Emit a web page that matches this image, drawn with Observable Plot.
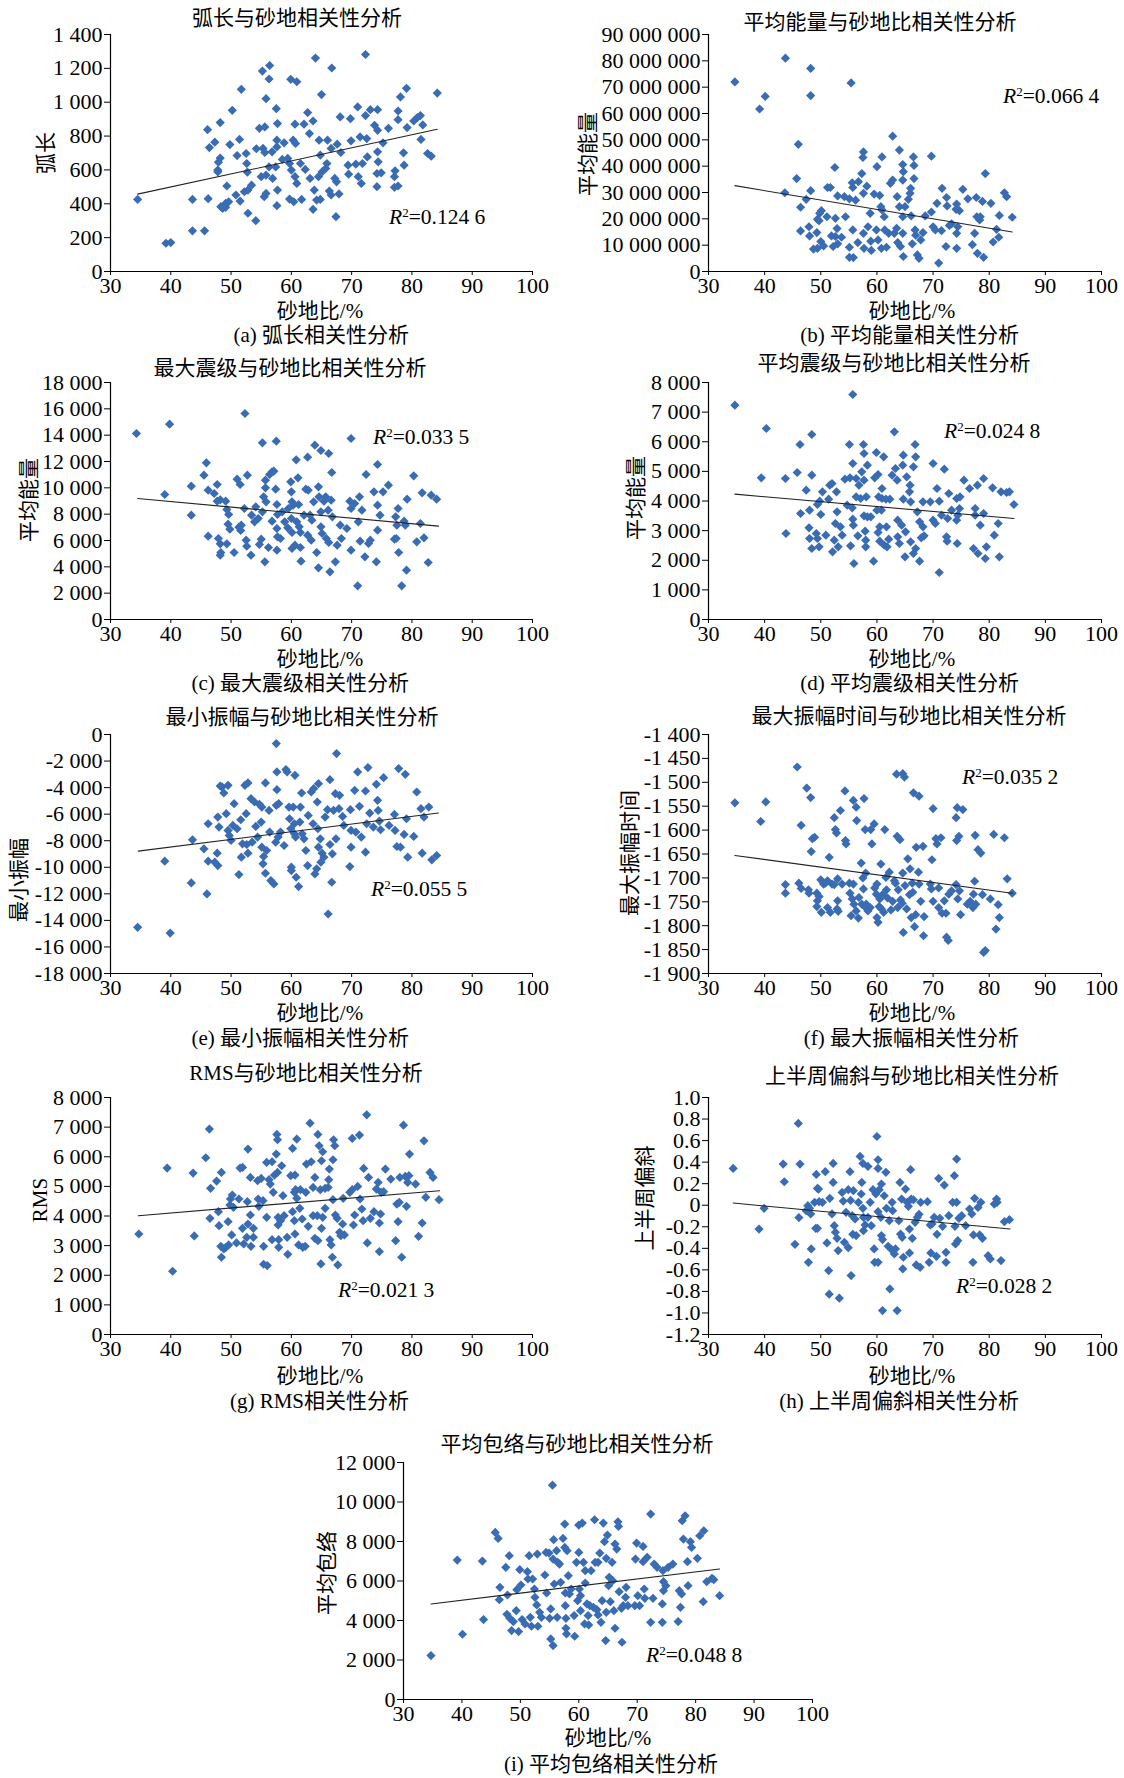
<!DOCTYPE html>
<html><head><meta charset="utf-8">
<script src="https://cdn.jsdelivr.net/npm/d3@7"></script>
<script src="https://cdn.jsdelivr.net/npm/@observablehq/plot@0.6"></script>
<style>
body{margin:0;background:#fff;}
#root{position:relative;width:1124px;height:1778px;font-family:"Liberation Serif","Times New Roman","Noto Sans CJK SC",serif;color:#000;overflow:hidden;}
#root svg{position:absolute;}
.t{position:absolute;white-space:nowrap;font-size:21px;line-height:1;transform:translate(-50%,-50%);}
.cap{position:absolute;white-space:nowrap;font-size:21px;line-height:1;transform:translate(-100%,-50%);}
.yl{position:absolute;white-space:nowrap;font-size:21px;line-height:1;transform:translate(-50%,-50%) rotate(-90deg);}
.r2{position:absolute;white-space:nowrap;font-size:21.5px;line-height:1;transform:translate(0,-50%);}
.r2 sup{font-size:13px;vertical-align:top;position:relative;top:-1px;}
</style></head><body><div id="root"></div>
<script>
// ---------------- data ----------------
const xTicks = [30,40,50,60,70,80,90,100];

const arcLen = [[34.5,426],[39.2,167],[40.0,171],[43.6,240],[43.6,426],[45.6,240],[46.1,838],[46.4,732],[46.2,430],[47.3,764],[48.2,880],[47.8,589],[47.9,646],[48.2,670],[47.8,599],[48.3,383],[48.6,373],[49.1,379],[49.3,505],[49.1,402],[49.6,412],[49.8,750],[50.2,952],[50.8,452],[51.0,685],[51.4,780],[51.7,1076],[51.5,416],[52.5,697],[52.6,638],[52.7,587],[52.8,344],[52.2,471],[52.8,481],[53.4,510],[54.1,300],[54.2,725],[54.7,846],[55.2,1184],[55.6,854],[55.8,1021],[55.3,727],[55.6,703],[55.8,569],[55.0,560],[55.5,442],[55.8,461],[56.4,1217],[56.3,1137],[56.3,618],[56.8,707],[56.9,550],[57.5,962],[57.7,874],[57.6,776],[57.6,736],[57.4,618],[57.7,481],[57.6,389],[58.5,662],[58.8,760],[59.4,668],[59.7,638],[59.9,1135],[60.9,1121],[60.3,776],[60.7,756],[60.6,870],[60.0,599],[60.6,560],[59.7,428],[60.4,412],[60.9,520],[61.5,638],[62.1,870],[62.7,939],[63.0,815],[62.3,603],[61.7,426],[63.1,550],[63.6,889],[64.0,1261],[63.6,367],[64.2,422],[64.8,426],[63.8,481],[64.8,687],[64.6,776],[65.0,1045],[64.5,560],[65.1,589],[65.7,609],[65.9,638],[66.0,776],[66.6,727],[66.7,1202],[66.3,475],[66.6,452],[67.4,324],[67.2,550],[67.5,530],[67.6,752],[67.9,458],[68.1,913],[68.2,703],[69.4,628],[69.8,903],[69.9,772],[69.5,575],[70.7,634],[71.0,972],[71.4,795],[71.1,560],[71.6,520],[72.3,1282],[72.3,921],[72.5,785],[72.6,677],[71.8,638],[73.1,956],[73.8,864],[74.3,956],[74.3,834],[74.3,707],[74.4,648],[74.2,579],[74.9,583],[74.2,501],[75.2,760],[76.1,846],[77.2,595],[77.1,560],[77.1,497],[77.7,505],[77.7,948],[77.7,897],[78.1,1031],[78.6,701],[78.7,628],[79.1,1082],[79.2,850],[80.3,889],[80.9,909],[81.4,921],[81.8,866],[81.5,780],[82.6,697],[83.2,681],[84.2,1054]];
const arcLenTrend = [[34.5,457],[84.2,840]];
const arcLenTicks = [0,200,400,600,800,1000,1200,1400];

const meanEnergy = [[34.7,72.0e6],[39.1,61.7e6],[40.1,66.5e6],[43.7,81.0e6],[43.6,29.9e6],[45.7,35.3e6],[46.0,48.3e6],[46.4,24.4e6],[46.4,15.4e6],[47.4,27.4e6],[47.9,17.0e6],[48.0,13.5e6],[48.2,77.1e6],[48.2,66.8e6],[48.2,30.7e6],[48.7,8.5e6],[49.4,8.8e6],[49.3,14.8e6],[49.4,19.8e6],[49.8,22.1e6],[50.1,23.1e6],[49.7,19.3e6],[50.0,11.4e6],[50.5,9.7e6],[51.1,20.8e6],[51.2,31.9e6],[51.7,31.9e6],[51.9,13.5e6],[52.2,9.5e6],[52.5,39.5e6],[52.6,20.2e6],[52.9,16.3e6],[52.6,13.3e6],[53.0,10.5e6],[53.0,28.7e6],[53.7,13.0e6],[54.2,28.4e6],[54.4,20.8e6],[55.1,9.2e6],[55.1,5.4e6],[55.8,5.3e6],[55.4,71.6e6],[55.1,27.6e6],[55.6,33.7e6],[55.7,31.9e6],[55.7,15.8e6],[56.2,27.1e6],[56.6,11.0e6],[56.7,34.1e6],[57.3,37.2e6],[57.6,45.4e6],[57.5,43.3e6],[57.6,29.7e6],[57.6,14.5e6],[57.7,8.8e6],[58.2,32.4e6],[58.4,17.0e6],[58.8,22.1e6],[58.9,11.5e6],[59.0,8.0e6],[59.5,29.4e6],[60.0,39.8e6],[59.9,15.8e6],[60.2,12.0e6],[60.5,28.9e6],[60.7,24.6e6],[60.9,43.5e6],[60.9,23.4e6],[61.3,20.8e6],[60.8,8.8e6],[61.7,9.2e6],[61.4,15.8e6],[62.1,14.5e6],[62.4,33.5e6],[62.8,51.4e6],[62.8,34.7e6],[63.1,14.5e6],[63.5,16.4e6],[63.6,28.4e6],[64.0,46.1e6],[64.0,24.6e6],[63.7,11.0e6],[64.2,9.5e6],[64.6,40.6e6],[64.7,37.9e6],[64.6,34.7e6],[65.0,24.6e6],[64.6,20.8e6],[64.6,14.5e6],[64.7,5.7e6],[65.6,27.4e6],[65.9,29.7e6],[66.0,31.6e6],[66.5,43.5e6],[66.6,40.3e6],[66.6,35.3e6],[66.1,21.1e6],[66.3,10.5e6],[66.8,15.8e6],[66.9,13.8e6],[67.2,6.3e6],[67.5,5.0e6],[67.8,12.0e6],[68.2,14.8e6],[68.6,21.1e6],[69.7,43.8e6],[69.7,22.6e6],[70.0,17.0e6],[70.4,15.8e6],[70.7,25.9e6],[71.0,3.2e6],[71.5,15.5e6],[71.6,31.6e6],[72.3,9.5e6],[72.4,28.1e6],[72.5,24.9e6],[72.9,17.5e6],[73.3,18.1e6],[74.1,23.6e6],[74.2,25.6e6],[74.2,14.5e6],[74.2,8.8e6],[74.7,23.1e6],[74.4,17.0e6],[75.3,31.2e6],[76.2,27.6e6],[77.0,10.2e6],[77.4,14.5e6],[77.7,28.1e6],[77.8,20.8e6],[77.9,6.9e6],[78.3,19.6e6],[78.4,20.8e6],[78.8,26.6e6],[79.0,5.4e6],[79.3,37.2e6],[80.3,25.9e6],[80.7,11.2e6],[81.3,16.0e6],[81.7,13.0e6],[81.8,21.3e6],[82.7,29.9e6],[83.1,28.4e6],[84.1,20.6e6]];
const meanEnergyTrend = [[34.7,32.6e6],[84.1,15.0e6]];
const meanEnergyTicks = [0,10e6,20e6,30e6,40e6,50e6,60e6,70e6,80e6,90e6];

const maxMag = [[34.3,14126],[39.0,9494],[39.8,14835],[43.4,10127],[43.4,7924],[45.5,10962],[45.9,11899],[46.2,6329],[46.2,9823],[47.2,9570],[47.7,10253],[47.7,8987],[47.9,6152],[48.2,5747],[48.2,4886],[48.3,5089],[48.2,9089],[49.1,8987],[49.3,8354],[49.6,7975],[49.5,7241],[49.8,6861],[49.3,5747],[50.5,5089],[51.0,10658],[51.5,10253],[51.3,7013],[51.6,6759],[51.7,7165],[52.3,15645],[52.7,10962],[52.2,8430],[52.5,6025],[52.6,5570],[53.3,4886],[53.4,7924],[53.9,7418],[54.1,8557],[54.5,7671],[54.7,5696],[55.0,6101],[55.2,13417],[55.2,8177],[55.4,9317],[55.7,10582],[55.7,10000],[55.8,8936],[55.6,4380],[56.2,5468],[56.4,11013],[56.8,11215],[56.8,7468],[57.1,11266],[57.5,13544],[57.4,9899],[57.6,8734],[57.7,7975],[57.6,6911],[57.7,6278],[57.6,5266],[58.2,6152],[58.5,8177],[58.9,7418],[59.4,6962],[59.5,8430],[59.9,10456],[60.0,9696],[60.1,8936],[60.3,8683],[60.0,7671],[60.1,6608],[60.1,5392],[60.6,5646],[60.8,12127],[61.1,10759],[61.2,8734],[60.9,7418],[61.3,7038],[61.5,6608],[61.5,5468],[61.6,4430],[62.1,7924],[62.4,9899],[62.7,12329],[62.8,9823],[62.7,6405],[63.1,7924],[63.3,6025],[63.4,7544],[63.9,13240],[63.7,8936],[64.2,5089],[64.5,3924],[64.5,10076],[64.6,9317],[64.9,12835],[64.9,8177],[64.9,7038],[65.1,6532],[65.4,8987],[65.7,9317],[65.8,6152],[66.1,8304],[66.2,5848],[66.2,12607],[66.6,9063],[66.7,11165],[66.4,3620],[66.8,7797],[67.3,4380],[67.6,5646],[68.1,7165],[68.3,6152],[69.2,6911],[69.7,8987],[69.9,13747],[69.9,8430],[69.9,5266],[70.5,8810],[71.0,2557],[71.1,7418],[71.3,9317],[71.7,8304],[71.4,5949],[72.2,4759],[72.4,11013],[72.8,5772],[73.1,6025],[73.7,9696],[74.1,4380],[74.3,11772],[74.3,8683],[74.3,6785],[74.7,7924],[75.2,9696],[76.1,10202],[77.1,6101],[77.4,6152],[77.3,7797],[77.5,7165],[77.7,8430],[77.8,5089],[78.3,2557],[78.7,7468],[78.9,7165],[79.1,3747],[79.2,9139],[80.3,10911],[80.8,5899],[81.4,7291],[81.7,9620],[82.0,6203],[82.7,4329],[83.2,9443],[84.1,9139]];
const maxMagTrend = [[34.5,9190],[84.4,7089]];
const maxMagTicks = [0,2000,4000,6000,8000,10000,12000,14000,16000,18000];

const meanMag = [[34.7,7235],[39.4,4782],[40.3,6447],[43.7,4759],[43.8,2903],[45.8,4962],[46.3,5907],[46.4,3578],[47.4,4366],[47.9,3094],[48.0,3690],[48.0,2734],[48.4,2397],[48.4,6245],[48.4,4872],[49.2,2903],[49.4,2734],[49.7,2453],[49.4,3882],[49.8,3994],[50.0,3544],[50.3,4310],[50.9,2847],[51.4,4062],[51.6,4535],[52.0,4591],[52.1,2284],[52.4,2678],[52.6,3240],[52.8,4310],[52.9,3634],[53.1,2453],[53.5,3128],[53.8,2847],[54.3,4737],[54.7,3859],[55.1,5907],[55.2,4782],[55.3,2487],[55.6,3769],[55.7,7595],[55.7,5266],[55.7,3387],[55.8,3184],[55.9,1890],[56.3,4759],[56.3,4141],[56.6,2824],[56.8,4535],[57.1,4084],[57.3,4984],[57.6,5907],[57.7,5604],[57.7,4703],[57.7,3499],[57.9,2982],[58.0,2678],[58.0,2453],[58.1,4141],[58.3,5210],[58.3,3466],[58.9,3466],[59.4,1969],[59.6,4782],[59.9,5637],[60.2,4895],[60.3,4141],[60.0,3690],[60.2,2937],[60.5,3128],[60.5,2644],[60.8,3690],[60.9,4422],[60.9,4084],[61.2,5491],[61.3,2509],[61.6,4062],[61.7,3128],[61.8,2453],[62.1,2712],[62.3,4062],[62.7,4872],[63.1,6335],[63.3,5097],[63.6,4703],[63.7,3353],[63.7,2790],[64.0,2565],[64.4,3184],[64.6,5210],[64.7,5547],[64.7,4062],[65.0,2115],[65.1,2959],[65.3,4816],[65.8,4310],[65.9,4535],[66.0,3972],[66.0,2622],[66.5,5153],[66.5,2228],[66.8,5907],[66.9,5491],[66.9,2397],[67.2,3634],[67.6,1969],[67.6,3297],[67.9,2757],[68.2,3972],[68.2,3128],[68.4,2824],[69.5,3972],[70.0,5266],[70.0,3353],[70.4,3240],[70.7,4422],[71.1,1587],[71.1,3994],[71.5,3522],[72.0,5075],[72.4,2790],[72.5,2644],[72.6,3409],[72.8,4253],[73.3,3690],[74.2,4084],[74.2,3353],[74.3,2565],[74.4,3522],[74.7,3747],[74.8,4141],[75.5,4703],[76.5,4422],[77.2,2397],[77.5,3747],[77.5,3522],[77.9,4535],[78.0,2228],[78.4,3184],[79.0,4759],[79.0,3578],[79.3,2059],[79.5,2453],[80.6,4445],[80.9,2847],[81.6,3240],[81.8,2115],[82.1,4310],[83.1,4287],[83.6,4310],[84.4,3882]];
const meanMagTrend = [[34.7,4231],[84.4,3409]];
const meanMagTicks = [0,1000,2000,3000,4000,5000,6000,7000,8000];

const minAmp = [[34.5,-14526],[39.0,-9541],[39.9,-14954],[43.6,-7930],[43.4,-11178],[45.5,-8610],[46.0,-12008],[46.2,-6722],[46.2,-9541],[47.3,-9617],[47.7,-8937],[47.8,-6218],[47.8,-9869],[48.0,-6974],[48.2,-3877],[48.5,-3952],[48.8,-4406],[49.2,-5966],[49.5,-3827],[49.5,-7225],[49.7,-7603],[50.0,-7980],[50.3,-6848],[50.5,-5211],[51.0,-7099],[51.3,-10548],[51.6,-6420],[51.7,-9239],[51.9,-8232],[52.3,-3827],[52.5,-5966],[52.6,-8283],[52.8,-3650],[52.8,-8937],[53.3,-4834],[53.5,-8106],[53.9,-5085],[54.1,-6923],[54.4,-7729],[54.7,-5261],[55.1,-5463],[55.0,-6596],[55.1,-8484],[55.3,-9743],[55.4,-9189],[55.7,-10448],[55.7,-3650],[55.9,-8736],[56.3,-5715],[56.4,-7351],[56.6,-11002],[57.1,-11253],[57.4,-8106],[57.5,-680],[57.6,-2820],[57.6,-4154],[57.5,-5337],[57.9,-5211],[57.8,-7729],[58.2,-7351],[58.8,-8358],[59.1,-2643],[59.3,-2820],[59.6,-5463],[59.7,-6344],[59.9,-7099],[60.0,-9995],[60.0,-10246],[60.3,-5463],[60.5,-6722],[60.6,-3071],[60.5,-7477],[60.7,-7729],[60.8,-10750],[61.2,-11455],[61.4,-6596],[61.5,-5463],[61.7,-4406],[61.8,-7477],[62.1,-7855],[62.4,-8736],[62.7,-9869],[62.8,-6092],[63.3,-4330],[63.7,-4078],[63.6,-6722],[63.9,-10498],[64.2,-10120],[64.3,-5085],[64.4,-7099],[64.5,-3701],[64.5,-8484],[64.8,-7855],[64.9,-9617],[65.1,-8937],[65.4,-9239],[65.6,-6218],[66.0,-5664],[66.1,-13519],[66.4,-3399],[66.4,-8283],[66.7,-11127],[66.8,-8987],[67.0,-5715],[67.3,-4456],[67.4,-7855],[67.5,-1435],[67.9,-5589],[68.0,-4582],[68.5,-6168],[68.7,-6848],[69.7,-9944],[69.8,-5664],[69.9,-8484],[69.9,-7225],[70.5,-4204],[70.7,-7351],[71.0,-2820],[71.3,-5413],[71.6,-7729],[72.3,-8862],[72.3,-4254],[72.7,-2492],[72.5,-6722],[73.0,-5916],[73.6,-6974],[74.1,-3751],[74.3,-4959],[74.4,-5715],[74.6,-6520],[74.8,-7175],[75.3,-3248],[76.2,-6848],[77.1,-6017],[77.2,-7225],[77.5,-8434],[77.8,-2568],[78.1,-8484],[78.7,-7527],[78.9,-2996],[79.1,-6344],[79.3,-9239],[80.3,-7678],[80.8,-4330],[81.5,-5589],[81.7,-8937],[82.0,-6218],[82.8,-5463],[83.3,-9440],[84.1,-9113]];
const minAmpTrend = [[34.6,-8786],[84.4,-5916]];
const minAmpTicks = [0,-2000,-4000,-6000,-8000,-10000,-12000,-14000,-16000,-18000];

const maxAmpTime = [[34.7,-1543],[39.3,-1582],[40.2,-1541],[43.7,-1714],[43.7,-1732],[45.8,-1468],[46.1,-1711],[46.5,-1722],[46.5,-1590],[47.5,-1512],[47.8,-1725],[47.9,-1732],[48.2,-1532],[48.3,-1645],[48.5,-1618],[48.9,-1615],[49.3,-1732],[49.4,-1748],[49.7,-1739],[49.3,-1760],[50.0,-1704],[50.1,-1772],[50.5,-1713],[50.8,-1711],[51.2,-1706],[51.5,-1657],[51.2,-1762],[51.7,-1772],[52.0,-1713],[52.4,-1714],[52.4,-1574],[52.6,-1599],[52.8,-1606],[53.0,-1702],[53.0,-1748],[52.9,-1765],[53.1,-1770],[53.5,-1559],[53.8,-1713],[54.3,-1518],[54.4,-1622],[54.5,-1629],[55.1,-1711],[55.2,-1732],[55.4,-1779],[55.6,-1744],[55.8,-1713],[55.8,-1538],[55.9,-1755],[56.3,-1552],[56.4,-1580],[56.3,-1769],[56.7,-1784],[56.8,-1741],[57.2,-1669],[57.3,-1755],[57.5,-1700],[57.6,-1723],[57.7,-1534],[57.9,-1599],[58.0,-1690],[58.0,-1762],[58.1,-1755],[58.4,-1769],[58.8,-1762],[58.9,-1599],[59.1,-1629],[59.5,-1587],[59.6,-1721],[59.9,-1734],[60.0,-1713],[60.0,-1783],[60.2,-1793],[60.4,-1760],[60.5,-1744],[60.7,-1671],[60.8,-1765],[61.0,-1735],[61.2,-1772],[61.4,-1599],[61.6,-1699],[61.7,-1725],[61.9,-1742],[62.2,-1688],[62.5,-1767],[62.8,-1749],[63.1,-1706],[63.3,-1711],[63.5,-1483],[63.6,-1613],[63.7,-1762],[63.8,-1725],[64.1,-1620],[64.2,-1746],[64.5,-1753],[64.6,-1690],[64.6,-1482],[64.9,-1489],[64.7,-1814],[65.0,-1716],[65.3,-1765],[65.5,-1660],[65.8,-1735],[65.9,-1681],[66.1,-1783],[66.3,-1711],[66.4,-1730],[66.5,-1522],[66.7,-1802],[66.9,-1777],[67.0,-1636],[67.4,-1688],[67.5,-1713],[67.5,-1529],[67.8,-1749],[68.2,-1634],[68.3,-1821],[68.4,-1781],[69.5,-1713],[69.7,-1723],[69.8,-1662],[70.0,-1555],[70.0,-1749],[70.5,-1618],[70.7,-1629],[71.0,-1721],[71.0,-1762],[71.4,-1616],[71.6,-1774],[72.0,-1748],[72.3,-1774],[72.4,-1824],[72.7,-1831],[72.8,-1734],[73.3,-1727],[74.1,-1714],[74.1,-1574],[74.2,-1622],[74.3,-1553],[74.4,-1744],[74.6,-1613],[74.7,-1727],[74.9,-1777],[75.3,-1557],[76.1,-1755],[76.6,-1749],[77.1,-1762],[77.2,-1734],[77.4,-1707],[77.5,-1611],[77.6,-1755],[78.0,-1641],[78.5,-1648],[78.8,-1735],[79.0,-1856],[79.3,-1852],[80.2,-1744],[80.8,-1609],[81.2,-1807],[81.6,-1756],[81.8,-1783],[82.7,-1616],[83.2,-1702],[84.1,-1732]];
const maxAmpTimeTrend = [[34.7,-1653],[84.1,-1732]];
const maxAmpTimeTicks = [-1400,-1450,-1500,-1550,-1600,-1650,-1700,-1750,-1800,-1850,-1900];

const rms = [[34.7,3393],[39.4,5618],[40.3,2135],[43.7,5449],[43.9,3326],[45.8,5966],[46.4,6933],[46.6,4933],[46.5,3921],[47.6,5180],[47.9,4146],[48.0,3674],[48.4,5472],[48.3,2978],[48.4,2607],[48.8,2888],[49.1,2933],[49.5,3809],[49.6,3022],[49.8,4371],[49.9,4573],[50.2,4708],[50.4,4292],[50.1,3360],[50.9,3090],[51.3,4573],[51.5,5618],[51.9,5640],[51.9,3584],[52.1,3056],[52.6,3281],[52.7,4483],[52.8,3730],[52.8,6258],[53.2,5303],[53.2,4034],[53.3,2978],[53.7,3584],[53.7,3281],[54.4,5191],[54.5,4573],[54.6,4326],[55.0,5270],[55.3,4517],[55.4,2978],[55.4,2371],[55.9,5809],[55.9,3955],[56.0,2326],[56.3,5225],[56.5,5079],[56.8,5831],[56.8,3202],[57.0,4798],[57.2,5382],[57.5,6090],[57.6,6753],[57.7,6573],[57.7,5472],[57.8,3955],[57.8,3697],[57.9,3202],[57.9,2944],[58.2,3843],[58.4,5697],[58.6,4685],[58.8,4011],[59.3,3281],[59.4,2708],[59.9,5360],[60.2,6281],[60.2,4146],[60.5,4798],[60.6,5382],[60.5,3843],[60.6,3393],[60.7,4888],[60.9,6596],[60.9,4596],[61.2,3022],[61.4,4258],[61.5,4888],[61.8,3899],[61.9,2944],[62.3,2978],[62.4,4798],[62.5,5753],[62.8,3652],[63.1,7135],[63.3,5831],[63.6,4966],[63.6,4011],[63.9,5303],[63.9,3247],[64.4,6753],[64.3,4011],[64.4,3168],[64.6,6371],[64.8,4888],[64.9,2382],[65.0,5865],[65.0,3584],[65.2,6169],[65.2,3955],[65.6,4258],[65.6,4933],[66.1,4966],[66.2,5225],[66.3,5584],[66.4,3202],[66.6,3022],[66.8,2607],[66.9,5899],[66.9,4551],[67.0,6573],[67.2,6371],[67.3,4034],[67.6,3921],[67.7,2348],[68.0,3449],[68.2,3337],[68.5,3730],[68.6,4596],[68.8,3360],[69.7,4798],[70.1,4888],[70.1,6618],[70.3,3697],[70.5,4034],[71.0,5000],[71.3,6730],[71.4,4573],[71.7,4236],[71.9,3843],[72.0,5607],[72.5,7416],[72.6,3090],[72.8,5303],[73.1,3921],[73.7,4146],[74.1,4910],[74.4,5135],[74.6,2798],[74.6,3764],[74.8,4067],[74.9,4798],[75.3,4820],[75.6,5584],[76.5,5247],[77.3,3168],[77.5,4404],[77.7,3809],[77.9,4461],[78.0,5303],[78.3,2607],[78.6,7067],[78.9,5337],[79.1,4326],[79.3,5135],[79.6,6090],[79.5,5360],[80.6,5079],[81.1,3315],[81.7,3764],[82.0,6539],[82.3,4629],[83.0,5472],[83.5,5303],[84.5,4551]];
const rmsTrend = [[34.6,4011],[84.6,4854]];
const rmsTicks = [0,1000,2000,3000,4000,5000,6000,7000,8000];

const skew = [[34.4,0.342],[39.0,-0.221],[39.9,-0.029],[43.3,0.382],[43.5,0.218],[45.4,-0.363],[46.0,0.759],[46.3,0.382],[46.1,-0.115],[47.7,-0.004],[47.8,-0.530],[47.4,-0.051],[48.0,-0.029],[48.2,-0.081],[48.3,-0.406],[48.9,0.027],[49.1,-0.214],[49.2,0.286],[49.4,0.156],[49.6,0.150],[49.4,-0.214],[49.7,0.033],[50.3,0.027],[50.8,0.311],[51.1,-0.350],[51.4,-0.607],[51.5,-0.826],[51.6,0.064],[52.0,-0.081],[52.2,0.212],[52.2,0.388],[52.4,-0.190],[52.6,-0.251],[52.9,-0.307],[53.1,-0.421],[53.3,-0.863],[53.8,0.119],[54.0,0.039],[54.2,-0.344],[54.5,-0.066],[54.9,-0.394],[54.9,0.144],[55.2,0.311],[55.3,0.045],[55.4,-0.653],[55.6,-0.097],[55.7,-0.270],[55.8,0.135],[56.1,-0.128],[56.3,-0.282],[56.7,0.027],[57.0,0.453],[57.2,0.104],[57.3,0.212],[57.5,0.388],[57.5,-0.029],[57.6,-0.112],[57.6,-0.236],[57.9,-0.183],[58.4,0.360],[58.4,-0.112],[58.8,0.027],[59.0,-0.190],[59.3,0.144],[59.5,-0.406],[59.6,-0.530],[59.8,0.104],[60.0,0.638],[60.2,0.422],[60.2,0.342],[60.2,-0.060],[60.2,-0.530],[60.4,0.144],[60.7,-0.112],[60.8,0.197],[60.8,-0.282],[61.0,-0.978],[61.0,-0.319],[61.3,0.088],[61.6,0.305],[61.7,-0.029],[62.0,-0.381],[62.2,-0.143],[62.3,-0.777],[62.6,-0.412],[62.7,0.027],[62.8,-0.051],[63.1,-0.452],[63.3,-0.406],[63.6,-0.978],[63.9,-0.143],[64.1,0.212],[64.2,-0.267],[64.4,0.057],[64.5,-0.298],[64.6,-0.591],[64.7,-0.483],[65.1,0.150],[65.4,0.027],[65.6,-0.010],[65.8,-0.221],[65.8,-0.443],[66.0,0.330],[66.1,0.057],[66.3,-0.307],[66.5,0.051],[66.8,-0.159],[67.0,-0.554],[67.2,-0.112],[67.5,-0.084],[67.7,-0.576],[67.8,0.027],[69.0,0.033],[69.3,-0.530],[69.5,-0.183],[69.6,-0.443],[69.8,-0.174],[70.2,-0.112],[70.6,-0.474],[70.7,-0.270],[71.0,0.249],[71.2,-0.122],[71.7,-0.196],[72.0,0.187],[72.3,-0.437],[72.3,-0.530],[72.8,-0.097],[73.5,0.027],[73.8,0.274],[73.9,-0.196],[74.0,-0.360],[74.2,0.428],[74.2,0.027],[74.4,-0.329],[74.6,-0.122],[75.1,-0.097],[75.8,-0.190],[76.5,-0.035],[76.9,-0.081],[77.1,-0.530],[77.2,-0.276],[77.4,0.064],[78.0,-0.020],[78.3,-0.276],[78.5,0.027],[78.8,-0.307],[79.8,-0.468],[80.2,-0.499],[80.9,0.011],[81.3,0.057],[81.4,0.027],[82.1,-0.514],[82.7,-0.153],[83.6,-0.134]];
const skewTrend = [[34.4,0.020],[83.7,-0.220]];
const skewTicks = [1.0,0.8,0.6,0.4,0.2,0,-0.2,-0.4,-0.6,-0.8,-1.0,-1.2];

const envelope = [[34.7,2225],[39.2,7062],[40.1,3303],[43.5,7011],[43.7,4045],[45.7,8461],[46.2,8157],[46.5,5680],[46.4,5056],[47.5,6691],[47.8,5292],[47.7,4315],[48.1,7281],[48.2,4112],[48.5,3489],[48.8,3944],[49.3,4500],[49.4,5562],[49.7,3438],[49.9,6573],[50.1,5798],[50.3,4045],[50.8,3826],[51.2,6472],[51.3,6101],[51.5,7281],[51.7,4163],[51.9,3708],[52.1,6101],[52.4,5596],[52.5,5174],[52.8,4787],[52.9,7365],[53.0,3708],[53.3,4416],[53.6,4163],[54.2,6303],[54.4,7449],[54.5,5393],[54.9,7416],[55.0,4112],[55.2,4584],[55.5,10854],[55.2,3067],[55.6,2730],[55.6,7112],[55.7,8090],[55.8,5848],[56.2,7534],[56.3,4163],[56.4,6944],[56.7,6859],[56.9,5933],[57.3,8157],[57.6,8882],[57.6,7702],[57.7,5393],[57.7,4753],[57.8,4112],[57.8,3607],[57.9,3320],[58.0,7534],[58.2,6270],[58.4,5343],[58.7,5596],[59.2,4247],[59.3,3202],[59.6,6944],[59.8,5006],[60.0,8831],[60.0,7449],[60.1,5596],[60.3,5258],[60.3,4500],[60.6,8933],[60.8,6944],[61.0,3826],[61.1,6522],[61.1,5899],[61.4,4837],[61.6,4247],[61.7,3775],[61.9,4753],[62.1,6522],[62.5,4669],[62.7,9101],[62.8,6944],[63.1,4550],[63.3,6944],[63.3,4281],[63.6,7416],[63.8,3910],[64.0,5006],[64.2,8933],[64.4,7989],[64.6,2983],[64.7,7146],[64.7,4416],[64.9,8326],[65.1,5764],[65.2,6185],[65.4,4955],[65.7,6944],[65.8,6017],[66.0,4500],[66.2,3607],[66.2,7871],[66.5,7618],[66.7,9000],[66.8,8764],[66.9,5461],[67.3,4618],[67.4,2899],[67.6,4753],[68.0,5174],[68.1,5680],[68.4,4753],[69.6,4753],[69.7,7112],[69.9,7921],[70.1,5258],[70.4,4753],[71.0,7753],[71.0,6977],[71.2,5596],[71.3,5124],[71.7,7197],[72.3,9388],[72.3,3910],[72.7,5124],[72.9,6859],[73.4,6691],[74.3,3910],[74.3,4837],[74.4,6522],[74.5,5966],[74.5,5511],[74.9,5764],[75.3,6691],[76.1,6859],[77.0,3944],[77.2,5511],[77.4,4669],[77.6,5343],[77.7,9050],[77.9,8124],[78.2,9304],[78.6,6977],[78.7,5764],[79.1,7989],[79.3,7702],[80.3,7146],[80.7,8292],[81.4,8545],[81.3,4955],[81.9,5966],[82.8,6135],[83.1,6067],[84.1,5258]];
const envelopeTrend = [[34.7,4837],[84.1,6607]];
const envelopeTicks = [0,2000,4000,6000,8000,10000,12000];

// ---------------- drawing ----------------
const BLUE = "#3a6cb4";
const FONT = '"Liberation Serif","Times New Roman","Noto Sans CJK SC",serif';
const diamond = {draw(ctx, size){const s = Math.sqrt(size/Math.PI); ctx.moveTo(0,-s); ctx.lineTo(s,0); ctx.lineTo(0,s); ctx.lineTo(-s,0); ctx.closePath();}};
const fmtThousands = d => d3.format(",")(d).replace(/,/g," ").replace("\u2212","-");
const fmtSkew = d => d === 0 ? "0" : d.toFixed(1);

const panels = [
 {data:arcLen, trend:arcLenTrend, yDomain:[0,1400], yTicks:arcLenTicks, fmt:fmtThousands,
  frame:[110,532,34,271], title:"弧长与砂地相关性分析", tPos:[297,18], yl:"弧长", ylPos:[46,153],
  xlPos:[320,311], cap:"(a) 弧长相关性分析", capPos:[409,335], r2:"0.124 6", r2Pos:[389,218]},
 {data:meanEnergy, trend:meanEnergyTrend, yDomain:[0,90e6], yTicks:meanEnergyTicks, fmt:fmtThousands,
  frame:[708,1101,34,271], title:"平均能量与砂地比相关性分析", tPos:[880,22], yl:"平均能量", ylPos:[588,154],
  xlPos:[912,311], cap:"(b) 平均能量相关性分析", capPos:[1019,335], r2:"0.066 4", r2Pos:[1003,97]},
 {data:maxMag, trend:maxMagTrend, yDomain:[0,18000], yTicks:maxMagTicks, fmt:fmtThousands,
  frame:[110,532,382,619], title:"最大震级与砂地比相关性分析", tPos:[290,368], yl:"平均能量", ylPos:[29,500],
  xlPos:[320,659], cap:"(c) 最大震级相关性分析", capPos:[409,683], r2:"0.033 5", r2Pos:[373,438]},
 {data:meanMag, trend:meanMagTrend, yDomain:[0,8000], yTicks:meanMagTicks, fmt:fmtThousands,
  frame:[708,1101,382,619], title:"平均震级与砂地比相关性分析", tPos:[894,363], yl:"平均能量", ylPos:[636,498],
  xlPos:[912,659], cap:"(d) 平均震级相关性分析", capPos:[1019,683], r2:"0.024 8", r2Pos:[944,432]},
 {data:minAmp, trend:minAmpTrend, yDomain:[-18000,0], yTicks:minAmpTicks, fmt:fmtThousands,
  frame:[110,532,734,973], title:"最小振幅与砂地比相关性分析", tPos:[302,717], yl:"最小振幅", ylPos:[19,880],
  xlPos:[320,1013], cap:"(e) 最小振幅相关性分析", capPos:[409,1038], r2:"0.055 5", r2Pos:[371,890]},
 {data:maxAmpTime, trend:maxAmpTimeTrend, yDomain:[-1900,-1400], yTicks:maxAmpTimeTicks, fmt:fmtThousands,
  frame:[708,1101,734,973], title:"最大振幅时间与砂地比相关性分析", tPos:[909,716], yl:"最大振幅时间", ylPos:[630,853],
  xlPos:[912,1013], cap:"(f) 最大振幅相关性分析", capPos:[1019,1038], r2:"0.035 2", r2Pos:[962,778]},
 {data:rms, trend:rmsTrend, yDomain:[0,8000], yTicks:rmsTicks, fmt:fmtThousands,
  frame:[110,532,1097,1334], title:"RMS与砂地比相关性分析", tPos:[306,1073], yl:"RMS", ylPos:[40,1200],
  xlPos:[320,1376], cap:"(g) RMS相关性分析", capPos:[409,1401], r2:"0.021 3", r2Pos:[338,1291]},
 {data:skew, trend:skewTrend, yDomain:[-1.2,1.0], yTicks:skewTicks, fmt:fmtSkew,
  frame:[708,1101,1097,1334], title:"上半周偏斜与砂地比相关性分析", tPos:[912,1076], yl:"上半周偏斜", ylPos:[645,1198],
  xlPos:[912,1376], cap:"(h) 上半周偏斜相关性分析", capPos:[1019,1401], r2:"0.028 2", r2Pos:[956,1287]},
 {data:envelope, trend:envelopeTrend, yDomain:[0,12000], yTicks:envelopeTicks, fmt:fmtThousands,
  frame:[403,812,1462,1699], title:"平均包络与砂地比相关性分析", tPos:[577,1444], yl:"平均包络", ylPos:[327,1573],
  xlPos:[608,1738], cap:"(i) 平均包络相关性分析", capPos:[718,1764], r2:"0.048 8", r2Pos:[646,1656]}
];

const root = document.getElementById("root");
const ML = 115, MR = 30, MT = 14, MB = 30;

function addText(cls, html, x, y){
  const el = document.createElement("div");
  el.className = cls; el.innerHTML = html;
  el.style.left = x + "px"; el.style.top = y + "px";
  root.appendChild(el);
}

for (const p of panels){
  const [l, r, t, b] = p.frame;
  const svg = Plot.plot({
    width: ML + (r - l) + MR,
    height: MT + (b - t) + MB,
    marginLeft: ML, marginRight: MR, marginTop: MT, marginBottom: MB,
    style: {fontFamily: FONT, fontSize: "22px", color: "#000", background: "transparent", overflow: "visible"},
    x: {domain: [30, 100], ticks: xTicks, tickSize: 4, tickPadding: 2, label: null, tickFormat: d => String(d)},
    y: {domain: p.yDomain, ticks: p.yTicks, tickSize: 6, tickPadding: 2, label: null, tickFormat: p.fmt},
    marks: [
      Plot.ruleX([30], {stroke: "#000", strokeWidth: 1.2}),
      Plot.ruleY([p.yDomain[0]], {stroke: "#000", strokeWidth: 1.2}),
      Plot.dot(p.data, {x: d => d[0], y: d => d[1], r: 4.6, symbol: diamond, fill: BLUE, stroke: "none"}),
      Plot.line(p.trend, {x: d => d[0], y: d => d[1], stroke: "#222", strokeWidth: 1.1})
    ]
  });
  svg.style.left = (l - ML) + "px";
  svg.style.top = (t - MT) + "px";
  root.appendChild(svg);
}
for (const p of panels){
  addText("t", p.title, p.tPos[0], p.tPos[1]);
  addText("yl", p.yl, p.ylPos[0], p.ylPos[1]);
  addText("t", "砂地比/%", p.xlPos[0], p.xlPos[1]);
  addText("cap", p.cap, p.capPos[0], p.capPos[1]);
  addText("r2", "<i>R</i><sup>2</sup>=" + p.r2, p.r2Pos[0], p.r2Pos[1]);
}
</script></body></html>
